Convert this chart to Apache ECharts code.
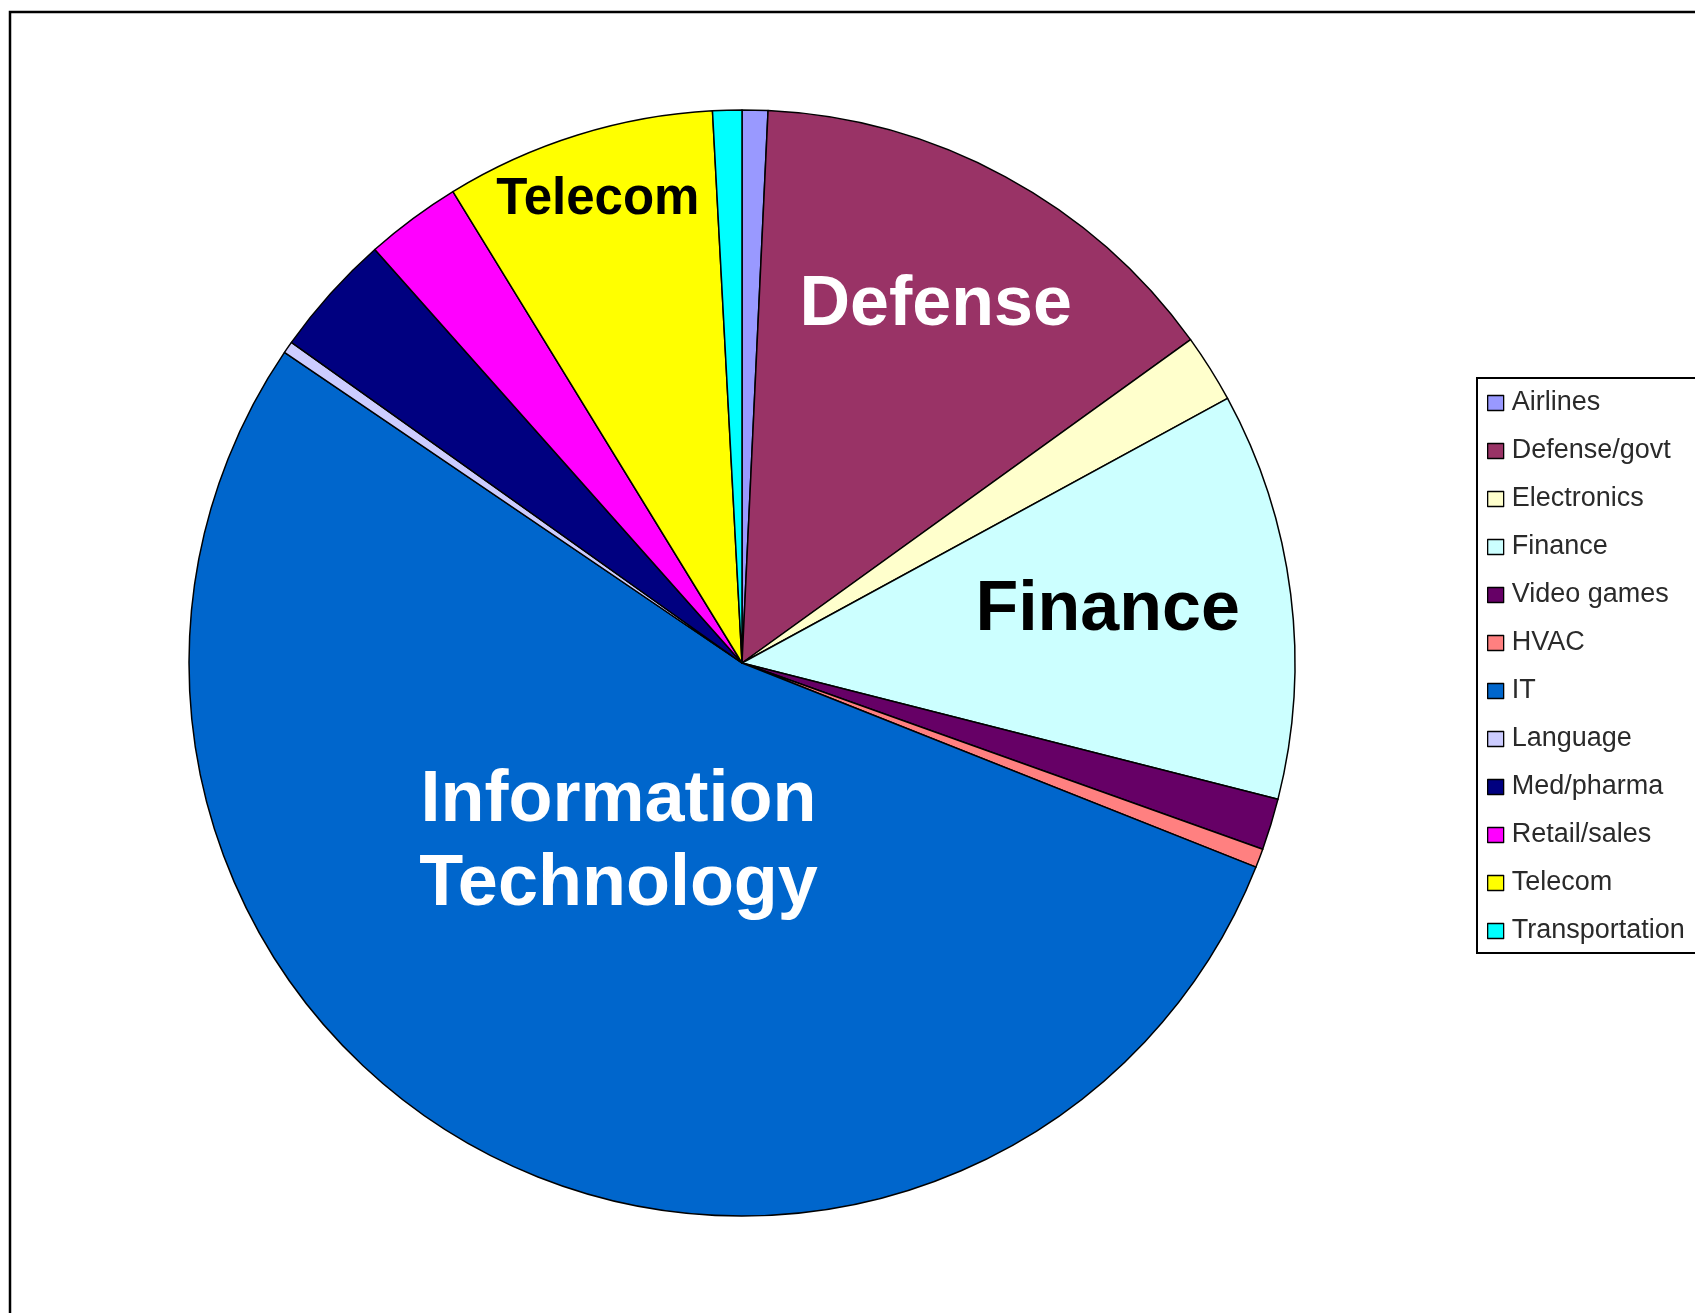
<!DOCTYPE html>
<html>
<head>
<meta charset="utf-8">
<title>Industries</title>
<script src="https://cdn.jsdelivr.net/npm/echarts@6/dist/echarts.min.js"></script>
<style>
  html, body { margin: 0; padding: 0; background: #ffffff; }
  #chart { width: 1695px; height: 1313px; }
</style>
</head>
<body>
<div id="chart"></div>
<script>
// Share of work by industry (percent)
const categories = ['Airlines', 'Defense/govt', 'Electronics', 'Finance', 'Video games', 'HVAC',
  'IT', 'Language', 'Med/pharma', 'Retail/sales', 'Telecom', 'Transportation'];
const shares = [0.75, 14.3, 2.0, 11.9, 1.5, 0.55, 53.45, 0.35, 3.6, 2.8, 7.9, 0.85];
const sliceColors = ['#9999FF', '#993366', '#FFFFCC', '#CCFFFF', '#660066', '#FF8080',
  '#0066CC', '#CCCCFF', '#000080', '#FF00FF', '#FFFF00', '#00FFFF'];

// Large captions written across the biggest slices
const captionTexts = ['Defense', 'Finance', 'Information\nTechnology', 'Telecom'];
const captionSlices = ['Defense/govt', 'Finance', 'IT', 'Telecom'];

// Caption placement: fraction of radius, angular nudge (deg), colour, size
const captionStyle = [
  { rf: 0.735, shift: 0, fill: '#ffffff', size: 70 },
  { rf: 0.668, shift: -1, fill: '#000000', size: 70 },
  { rf: 0.395, shift: 6.5, fill: '#ffffff', size: 72 },
  { rf: 0.877, shift: 0, fill: '#000000', size: 51 }
];

const chart = echarts.init(document.getElementById('chart'), null, { renderer: 'canvas' });

const pieData = categories.map((name, i) => ({
  name: name,
  value: shares[i],
  itemStyle: { color: sliceColors[i] }
}));

chart.setOption({
  animation: false,
  backgroundColor: '#ffffff',
  legend: {
    orient: 'vertical',
    left: 1477,
    top: 378,
    data: categories,
    icon: 'rect',
    itemWidth: 16,
    itemHeight: 15,
    itemGap: 20,
    padding: [11, 30, 8, 10],
    borderColor: '#000000',
    borderWidth: 2,
    backgroundColor: '#ffffff',
    selectedMode: false,
    itemStyle: { borderColor: '#000000', borderWidth: 1.3 },
    textStyle: {
      fontFamily: 'Liberation Sans, Arial, sans-serif',
      fontSize: 27,
      lineHeight: 28,
      color: '#2a2a2a',
      padding: [0, 0, 0, 3]
    }
  },
  series: [{
    type: 'pie',
    center: [742, 663],
    radius: 553,
    startAngle: 90,
    clockwise: true,
    avoidLabelOverlap: false,
    silent: true,
    label: { show: false },
    labelLine: { show: false },
    itemStyle: { borderColor: '#000000', borderWidth: 1.5 },
    emphasis: { disabled: true },
    data: pieData
  }]
});

// Place the captions from each slice's own layout (mid-angle, radius)
const seriesData = chart.getModel().getSeriesByIndex(0).getData();
const graphics = [{
  type: 'rect',
  z: 0,
  silent: true,
  shape: { x: 10, y: 12, width: 1720, height: 1340 },
  style: { fill: 'none', stroke: '#000000', lineWidth: 2.5 }
}];

captionSlices.forEach((slice, k) => {
  const idx = categories.indexOf(slice);
  const lay = seriesData.getItemLayout(idx);
  const st = captionStyle[k];
  const mid = (lay.startAngle + lay.endAngle) / 2 + st.shift * Math.PI / 180;
  const rr = lay.r * st.rf;
  graphics.push({
    type: 'text',
    z: 100,
    silent: true,
    x: lay.cx + rr * Math.cos(mid),
    y: lay.cy + rr * Math.sin(mid),
    style: {
      text: captionTexts[k],
      fill: st.fill,
      fontFamily: 'Liberation Sans, Arial, sans-serif',
      fontWeight: 'bold',
      fontSize: st.size,
      lineHeight: 84,
      align: 'center',
      textAlign: 'center',
      verticalAlign: 'middle',
      textVerticalAlign: 'middle'
    }
  });
});

chart.setOption({ graphic: graphics });
</script>
</body>
</html>
